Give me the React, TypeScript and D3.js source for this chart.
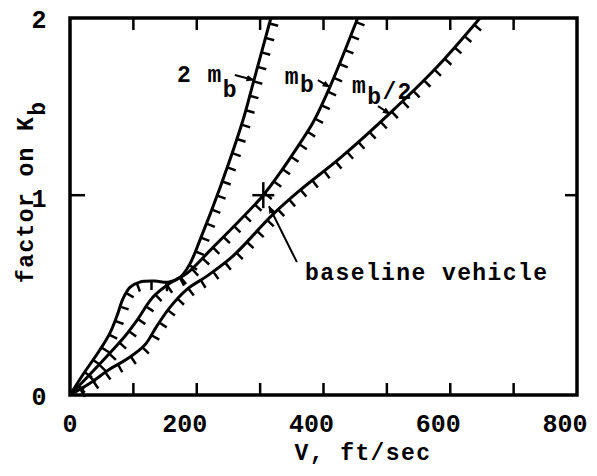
import * as d3 from 'd3';
import { useEffect, useRef } from 'react';

const W = 597;
const H = 476;
const margin = { top: 18, right: 20, bottom: 81, left: 70 };

// V (ft/sec) axis
const speedLabels = [0, 200, 400, 600, 800];
const speedTicks = [100, 200, 300, 400, 500, 600, 700];
// factor on K_b axis
const factorLabels = [0, 1, 2];
const factorTicks = [1];

// boundary curves, [V ft/sec, factor on Kb]
const twoMb = [
  [0, 0], [20, 0.1], [47, 0.225], [63, 0.31], [74, 0.395], [84, 0.485], [95, 0.54],
  [110, 0.565], [134, 0.57], [155, 0.565], [174, 0.59], [189, 0.655], [205, 0.775],
  [237, 1.045], [273, 1.424], [289, 1.633], [317, 2.0],
];
const mb = [
  [0, 0], [32, 0.105], [63, 0.21], [87, 0.295], [106, 0.375], [131, 0.49], [158, 0.56],
  [185, 0.61], [226, 0.74], [268, 0.875], [305, 1.0], [331, 1.124], [363, 1.294],
  [383, 1.407], [410, 1.61], [454, 2.0],
];
const halfMb = [
  [0, 0], [32, 0.06], [63, 0.13], [90, 0.18], [118, 0.25], [137, 0.345], [158, 0.44],
  [185, 0.53], [216, 0.595], [257, 0.695], [319, 0.9], [363, 1.028], [426, 1.209],
  [505, 1.463], [579, 1.723], [647, 2.0],
];

const baseline = [305, 1.0];

export default function App() {
  const ref = useRef<SVGSVGElement>(null);

  useEffect(() => {
    const svg = d3.select(ref.current);
    svg.selectAll('*').remove();

    const x = d3.scaleLinear().domain([0, 800]).range([margin.left, W - margin.right]);
    const plotH = H - margin.bottom - margin.top;
    // the "1" mark sits a bit above the middle in the original figure
    const y = d3
      .scaleLinear()
      .domain([0, 1, 2])
      .range([H - margin.bottom, H - margin.bottom - plotH * 0.53, margin.top]);

    const font = '"Liberation Mono", "DejaVu Sans Mono", monospace';

    svg
      .append('defs')
      .append('marker')
      .attr('id', 'ah')
      .attr('viewBox', '0 0 10 10')
      .attr('refX', 9)
      .attr('refY', 5)
      .attr('markerWidth', 4)
      .attr('markerHeight', 4)
      .attr('orient', 'auto')
      .append('path')
      .attr('d', 'M0,1L10,5L0,9Z')
      .attr('fill', '#000');

    svg.append('rect').attr('width', W).attr('height', H).attr('fill', '#fff');

    // frame
    svg
      .append('rect')
      .attr('x', x(0))
      .attr('y', y(2))
      .attr('width', x(800) - x(0))
      .attr('height', y(0) - y(2))
      .attr('fill', 'none')
      .attr('stroke', '#000')
      .attr('stroke-width', 3.5);

    const g = svg.append('g').attr('stroke', '#000').attr('stroke-width', 2.5);
    speedTicks.forEach((v) => {
      g.append('line').attr('x1', x(v)).attr('x2', x(v)).attr('y1', y(0)).attr('y2', y(0) - 12);
      g.append('line').attr('x1', x(v)).attr('x2', x(v)).attr('y1', y(2)).attr('y2', y(2) + 12);
    });
    factorTicks.forEach((v) => {
      g.append('line').attr('x1', x(0)).attr('x2', x(0) + 15).attr('y1', y(v)).attr('y2', y(v));
      g.append('line').attr('x1', x(800)).attr('x2', x(800) - 12).attr('y1', y(v)).attr('y2', y(v));
    });

    // tick labels
    svg
      .selectAll('.xl')
      .data(speedLabels)
      .enter()
      .append('text')
      .attr('x', (d) => x(d) - (d === 0 ? 0 : 12))
      .attr('y', 432)
      .attr('text-anchor', 'middle')
      .style('font-family', font)
      .style('font-size', '25px')
      .style('font-weight', 'bold')
      .text((d) => d);

    svg
      .selectAll('.yl')
      .data(factorLabels)
      .enter()
      .append('text')
      .attr('x', 39)
      .attr('y', (d) => y(d) + (d === 1 ? 12 : 10))
      .attr('text-anchor', 'middle')
      .style('font-family', font)
      .style('font-size', '25px')
      .style('font-weight', 'bold')
      .text((d) => d);

    // axis titles
    svg
      .append('text')
      .attr('x', 363)
      .attr('y', 460)
      .attr('text-anchor', 'middle')
      .style('font-family', font)
      .style('font-size', '23px')
      .style('font-weight', 'bold')
      .style('letter-spacing', '1.4px')
      .text('V, ft/sec');

    const yt = svg
      .append('text')
      .attr('transform', 'translate(33,283) rotate(-90)')
      .style('font-family', font)
      .style('font-size', '23px')
      .style('font-weight', 'bold')
      .style('letter-spacing', '1.4px');
    yt.append('tspan').text('factor on K');
    yt.append('tspan').attr('dy', 12).text('b');

    // curves with hatching on the lower-right side
    const line = d3
      .line<number[]>()
      .x((d) => x(d[0]))
      .y((d) => y(d[1]))
      .curve(d3.curveCatmullRom.alpha(0.5));

    [twoMb, mb, halfMb].forEach((series) => {
      const path = svg
        .append('path')
        .attr('d', line(series))
        .attr('fill', 'none')
        .attr('stroke', '#000')
        .attr('stroke-width', 3);
      const node = path.node() as SVGPathElement;
      const L = node.getTotalLength();
      for (let s = 12; s < L - 2; s += 15) {
        const p = node.getPointAtLength(s);
        const q = node.getPointAtLength(Math.min(s + 1, L));
        let dx = q.x - p.x;
        let dy = q.y - p.y;
        const n = Math.hypot(dx, dy) || 1;
        dx /= n;
        dy /= n;
        svg
          .append('line')
          .attr('x1', p.x)
          .attr('y1', p.y)
          .attr('x2', p.x - dy * 9)
          .attr('y2', p.y + dx * 9)
          .attr('stroke', '#000')
          .attr('stroke-width', 2.5);
      }
    });

    // baseline vehicle marker
    const bx = x(baseline[0]);
    const by = y(baseline[1]);
    svg.append('line').attr('x1', bx - 11).attr('x2', bx + 11).attr('y1', by).attr('y2', by)
      .attr('stroke', '#000').attr('stroke-width', 2.5);
    svg.append('line').attr('x1', bx).attr('x2', bx).attr('y1', by - 13).attr('y2', by + 13)
      .attr('stroke', '#000').attr('stroke-width', 2.5);

    // annotation arrows
    const arrows = [
      [[260, 1.678], [290, 1.65]],
      [[391, 1.65], [410, 1.61]],
      [[486, 1.503], [505, 1.458]],
      [[358, 0.665], [314, 0.945]],
    ];
    arrows.forEach(([a, b]) => {
      svg
        .append('line')
        .attr('x1', x(a[0]))
        .attr('y1', y(a[1]))
        .attr('x2', x(b[0]))
        .attr('y2', y(b[1]))
        .attr('stroke', '#000')
        .attr('stroke-width', 2)
        .attr('marker-end', 'url(#ah)');
    });

    const label = (v: number, f: number) =>
      svg
        .append('text')
        .attr('x', x(v))
        .attr('y', y(f))
        .style('font-family', font)
        .style('font-size', '23px')
        .style('font-weight', 'bold')
        .style('letter-spacing', '1.4px');

    const l1 = label(169, 1.638);
    l1.append('tspan').text('2 m');
    l1.append('tspan').attr('dy', 15).text('b');

    const l2 = label(339, 1.627);
    l2.append('tspan').text('m');
    l2.append('tspan').attr('dy', 8).text('b');

    const l3 = label(445, 1.576);
    l3.append('tspan').text('m');
    l3.append('tspan').attr('dy', 11).text('b');
    l3.append('tspan').attr('dy', -5).text('/2');

    label(371, 0.575).text('baseline vehicle');
  }, []);

  return (
    <svg
      ref={ref}
      width={W}
      height={H}
      style={{ position: 'absolute', left: 0, top: 0 }}
    ></svg>
  );
}
